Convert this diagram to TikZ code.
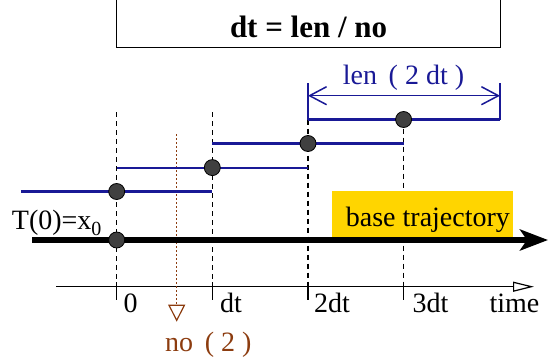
\documentclass[tikz,border=0pt]{standalone}
\usepackage{fontspec}
\setmainfont{Liberation Serif}
\usetikzlibrary{arrows.meta}
\definecolor{stepblue}{RGB}{25,25,150}
\definecolor{nobrown}{RGB}{140,60,15}
\definecolor{goldbox}{RGB}{255,213,0}
\definecolor{dotgray}{RGB}{64,64,64}
\tikzset{
  lbl/.style={inner sep=0pt, anchor=base west, font=\fontsize{28}{30}\selectfont},
  stepline/.style={draw=stepblue, line width=2.2pt},
  guide/.style={draw=black, line width=1.1pt, dash pattern=on 5pt off 4pt},
  tickline/.style={draw=black, line width=1.2pt},
  dot/.style={circle, draw=black, fill=dotgray, minimum size=16pt, inner sep=0pt, line width=0.8pt},
}
\begin{document}
\begin{tikzpicture}[x=1pt,y=-1pt]
\useasboundingbox (0,0) rectangle (549,362);
% grid positions
\coordinate (g0t) at (116.7,112);   \coordinate (g0b) at (116.7,282);
\coordinate (g1t) at (212.3,112);   \coordinate (g1b) at (212.3,282);
\coordinate (g2t) at (308,119.5);   \coordinate (g2b) at (308,282);
\coordinate (g3t) at (403.6,119.5); \coordinate (g3b) at (403.6,282);
\coordinate (t0a) at (116.7,282); \coordinate (t0b) at (116.7,300);
\coordinate (t1a) at (212.3,282); \coordinate (t1b) at (212.3,300);
\coordinate (t2a) at (308,282);   \coordinate (t2b) at (308,300);
\coordinate (t3a) at (403.6,282); \coordinate (t3b) at (403.6,300);
% dashed guides and ticks
\draw[guide] (g0t) -- (g0b);
\draw[guide] (g1t) -- (g1b);
\draw[guide] (g2t) -- (g2b);
\draw[guide] (g3t) -- (g3b);
\draw[tickline] (t0a) -- (t0b);
\draw[tickline] (t1a) -- (t1b);
\draw[tickline] (t2a) -- (t2b);
\draw[tickline] (t3a) -- (t3b);
% time axis
\coordinate (axs) at (56,286.7);
\coordinate (axe) at (534,286.7);
\draw[line width=1.2pt, -{Triangle[open,length=21pt,width=10pt]}] (axs) -- (axe);
% title
\node[draw=black, line width=1.3pt, minimum width=383.8pt, minimum height=48.7pt, inner sep=0pt] (titlebox) at (308.6,23.35) {};
\node[inner sep=0pt, anchor=base, font=\bfseries\fontsize{31}{33}\selectfont] (title) at (308.6,37) {dt = len / no};
% yellow box
\node[fill=goldbox, minimum width=181pt, minimum height=46pt, inner sep=0pt, anchor=north west] (gold) at (331.7,191) {};
\node[lbl] (base) at (345.7,226.7) {base trajectory};
% brown dotted marker
\coordinate (nt) at (176.7,134);
\coordinate (nb) at (176.7,321.7);
\draw[nobrown, line width=1pt, dash pattern=on 2pt off 2pt, -{Triangle[open,length=17pt,width=17pt,line width=1.2pt]}] (nt) -- (nb);
\node[lbl, text=nobrown] (nolbl) at (165,351) {no\,\ ( 2 )};
% blue steps
\coordinate (s0a) at (20.9,191.5);  \coordinate (s0b) at (212.3,191.5);
\coordinate (s1a) at (116.7,167.6); \coordinate (s1b) at (308,167.6);
\coordinate (s2a) at (212.3,143.5); \coordinate (s2b) at (403.6,143.5);
\coordinate (s3a) at (308,119.5);   \coordinate (s3b) at (500,119.5);
\draw[stepline] (s0a) -- (s0b);
\draw[stepline] (s1a) -- (s1b);
\draw[stepline] (s2a) -- (s2b);
\draw[stepline] (s3a) -- (s3b);
% len bracket
\coordinate (bl1) at (308,83);  \coordinate (bl2) at (308,119.5);
\coordinate (br1) at (500,83);  \coordinate (br2) at (500,119.5);
\coordinate (al) at (308,95.7); \coordinate (ar) at (500,95.7);
\draw[stepblue, line width=1.5pt] (bl1) -- (bl2);
\draw[stepblue, line width=1.5pt] (br1) -- (br2);
\draw[stepblue, line width=1.5pt, {Straight Barb[length=17pt,width=18pt]}-{Straight Barb[length=17pt,width=18pt]}] (al) -- (ar);
\node[inner sep=0pt, anchor=base, font=\fontsize{28}{30}\selectfont, text=stepblue] (lenlbl) at (403.5,84) {len\,\ ( 2 dt )};
% base trajectory
\coordinate (bs) at (32,240);
\coordinate (be) at (548,240);
\draw[line width=5.5pt, -{Stealth[length=28pt,width=21pt,inset=7pt]}] (bs) -- (be);
% dots
\node[dot] (c0) at (116.7,191.5) {};
\node[dot] (c1) at (212.3,167.6) {};
\node[dot] (c2) at (308,143.5) {};
\node[dot] (c3) at (403.6,119.5) {};
\node[dot] (cb) at (116.7,240) {};
% labels
\node[lbl] (tzero) at (11.7,229) {T(0)=x\raisebox{-6pt}{\fontsize{20}{20}\selectfont 0}};
\node[lbl] (l0) at (123.4,312) {0};
\node[lbl] (l1) at (220,312) {dt};
\node[lbl] (l2) at (313.9,312) {2dt};
\node[lbl] (l3) at (412.3,312) {3dt};
\node[lbl] (lt) at (489.3,312) {time};
\end{tikzpicture}
\end{document}
